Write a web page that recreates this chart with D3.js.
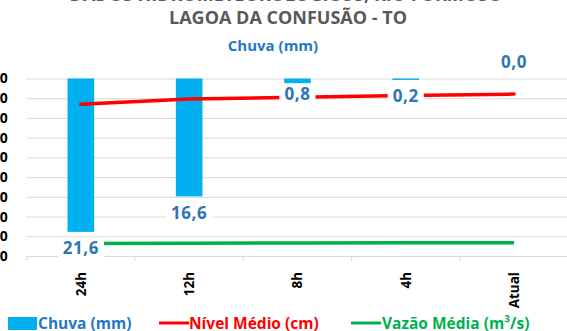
<!DOCTYPE html>
<html>
<head>
<meta charset="utf-8">
<script src="https://cdn.jsdelivr.net/npm/d3@7"></script>
<style>
  html, body { margin: 0; padding: 0; background: #fff; }
  svg { display: block; font-family: "Open Sans", "DejaVu Sans", sans-serif; }
</style>
</head>
<body>
<svg id="chart" width="567" height="331"></svg>
<script>
// Periods of the report
const categories = ["24h", "12h", "8h", "4h", "Atual"];
// Accumulated rain per period (mm)
const chuva = [21.6, 16.6, 0.8, 0.2, 0.0];
// Mean water level (cm)
const nivelMedio = [769, 796, 805, 814, 821];
// Mean flow (m³/s)
const vazaoMedia = [64, 65, 66, 67, 67];
// Left axis ticks
const leftTicks = [0, 100, 200, 300, 400, 500, 600, 700, 800, 900];
// Rain label fine placement (px, relative to default)
const labelNudge = [0, 0, -7, 0, 0];

const svg = d3.select("#chart");
const plot = { left: 26.7, right: 568.2, top: 78.5, bottom: 256 };

const x = d3.scaleBand().domain(categories).range([plot.left, plot.right]).padding(0);
const y = d3.scaleLinear().domain([0, 900]).range([plot.bottom, plot.top]);
// Rain axis runs downward from the top of the plot
const yRain = d3.scaleLinear().domain([0, 25]).range([plot.top, plot.bottom]);

const fmt = v => v.toFixed(1).replace(".", ",");

// Titles
svg.append("text")
  .attr("x", 286).attr("y", 0.7)
  .attr("text-anchor", "middle")
  .attr("font-size", 18).attr("font-weight", 700).attr("fill", "#595959")
  .text("DADOS HIDROMETEOROLÓGICOS, RIO FORMOSO");
svg.append("text")
  .attr("x", 288).attr("y", 24)
  .attr("text-anchor", "middle")
  .attr("font-size", 18).attr("font-weight", 700).attr("fill", "#595959")
  .text("LAGOA DA CONFUSÃO - TO");
svg.append("text")
  .attr("x", 273).attr("y", 51)
  .attr("text-anchor", "middle")
  .attr("font-size", 15).attr("font-weight", 700).attr("fill", "#1F78C8")
  .text("Chuva (mm)");

// Gridlines and left axis labels
const yAxis = d3.axisLeft(y).tickValues(leftTicks).tickSize(-(plot.right - plot.left)).tickPadding(19);
const gy = svg.append("g").attr("transform", `translate(${plot.left},0)`).call(yAxis);
gy.select(".domain").remove();
gy.selectAll(".tick line").attr("stroke", "#d9d9d9").attr("stroke-width", 1);
gy.selectAll(".tick text")
  .attr("font-size", 14).attr("font-weight", 700).attr("fill", "#000")
  .attr("font-family", "'Open Sans', sans-serif");

// Category axis with rotated labels
const xAxis = d3.axisBottom(x).tickSize(0).tickPadding(0);
const gx = svg.append("g").attr("transform", `translate(0,${plot.bottom})`).call(xAxis);
gx.select(".domain").attr("stroke", "#d9d9d9");
gx.selectAll(".tick text")
  .attr("transform", "rotate(-90)")
  .attr("text-anchor", "end")
  .attr("x", -16).attr("y", 0).attr("dy", null)
  .attr("dominant-baseline", "central")
  .attr("font-size", 13.5).attr("font-weight", 700).attr("fill", "#000")
  .attr("font-family", "'Open Sans', sans-serif");
// Tick marks at category boundaries
const bounds = categories.map(c => x(c));
gx.selectAll(".bound").data(bounds).join("line")
  .attr("class", "bound")
  .attr("x1", d => d).attr("x2", d => d)
  .attr("y1", 0).attr("y2", 5)
  .attr("stroke", "#d9d9d9");

// Rain bars
const barW = x.bandwidth() * 0.246;
svg.append("g").selectAll("rect").data(chuva).join("rect")
  .attr("x", (d, i) => x(categories[i]) + x.bandwidth() / 2 - barW / 2)
  .attr("y", yRain(0))
  .attr("width", barW)
  .attr("height", d => yRain(d) - yRain(0))
  .attr("fill", "#00B0F0");

// Level and flow lines
const line = d3.line()
  .x((d, i) => x(categories[i]) + x.bandwidth() / 2)
  .y(d => y(d));
svg.append("path").datum(nivelMedio)
  .attr("d", line).attr("fill", "none")
  .attr("stroke", "#FF0000").attr("stroke-width", 3.5).attr("stroke-linecap", "round");
svg.append("path").datum(vazaoMedia)
  .attr("d", line).attr("fill", "none")
  .attr("stroke", "#00B050").attr("stroke-width", 3.5).attr("stroke-linecap", "butt");

// Rain value labels with white boxes
const lblG = svg.append("g");
chuva.forEach((v, i) => {
  const cx = x(categories[i]) + x.bandwidth() / 2;
  const cy = (v === 0 ? yRain(0) - 17 : yRain(v) + 16) + labelNudge[i];
  const g = lblG.append("g").attr("transform", `translate(${cx},${cy})`);
  const t = g.append("text")
    .attr("text-anchor", "middle").attr("dominant-baseline", "central")
    .attr("font-size", 17).attr("font-weight", 700).attr("fill", "#2E75B6")
    .attr("letter-spacing", 0.6)
    .text(fmt(v));
  const bb = t.node().getBBox();
  g.insert("rect", "text")
    .attr("x", bb.x - 5).attr("y", -10)
    .attr("width", bb.width + 10).attr("height", 21)
    .attr("fill", "#fff");
});

// Legend
const leg = svg.append("g").attr("font-size", 15.5).attr("font-weight", 700);
leg.append("rect").attr("x", 8).attr("y", 317).attr("width", 29).attr("height", 13).attr("fill", "#00B0F0");
leg.append("text").attr("x", 38).attr("y", 329).attr("fill", "#1F78C8").text("Chuva (mm)");
leg.append("line").attr("x1", 159).attr("x2", 189).attr("y1", 323).attr("y2", 323)
  .attr("stroke", "#FF0000").attr("stroke-width", 3);
leg.append("text").attr("x", 189).attr("y", 329).attr("fill", "#FF0000").text("Nível Médio (cm)");
leg.append("line").attr("x1", 351).attr("x2", 381).attr("y1", 323).attr("y2", 323)
  .attr("stroke", "#00B050").attr("stroke-width", 3);
leg.append("text").attr("x", 382).attr("y", 329).attr("fill", "#00B050").text("Vazão Média (m³/s)");
</script>
</body>
</html>
